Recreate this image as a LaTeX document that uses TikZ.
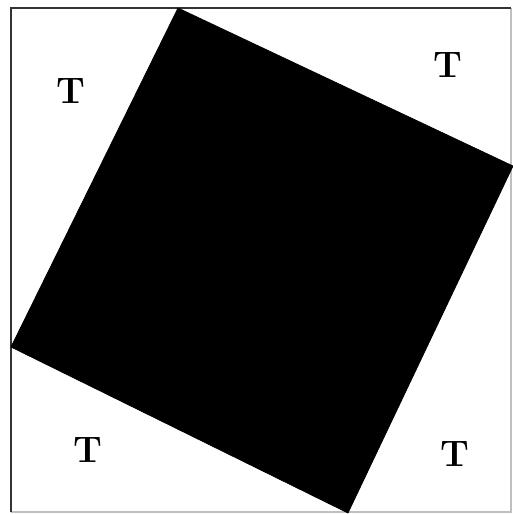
\documentclass[tikz,border=0pt]{standalone}
\usepackage{tikz}
\usetikzlibrary{positioning}
\tikzset{
  frame/.style = {draw=black!80, line width=1.6pt},
  faintframe/.style = {draw=black!25, line width=0.6pt},
  tilted/.style = {fill=black, draw=black, line join=round},
  corner/.style = {font=\fontsize{21}{24}\selectfont\bfseries, inner sep=0pt}
}

\begin{document}
\begin{tikzpicture}[x=0.02cm, y=-0.02cm]
\useasboundingbox (0,0) rectangle (513,514);

% Outer frame (right and bottom sides barely visible)
\coordinate (nw) at (11,8);
\coordinate (ne) at (511,8);
\coordinate (se) at (511,512);
\coordinate (sw) at (11,512);
\draw[faintframe] (ne) -- (se) -- (sw);
\draw[frame] (sw) -- (nw) -- (ne);

% Tilted square, corners on the frame
\coordinate (top) at (178,8);
\coordinate (right) at (513,166);
\coordinate (bottom) at (348,513);
\coordinate (left) at (11,347);
\fill[tilted] (top) -- (right) -- (bottom) -- (left) -- cycle;

% Corner labels
\node[corner] (tl) at (71,91) {T};
\node[corner] (tr) at (448,65) {T};
\node[corner] (bl) at (88,450) {T};
\node[corner] (br) at (455,454) {T};

\end{tikzpicture}
\end{document}
